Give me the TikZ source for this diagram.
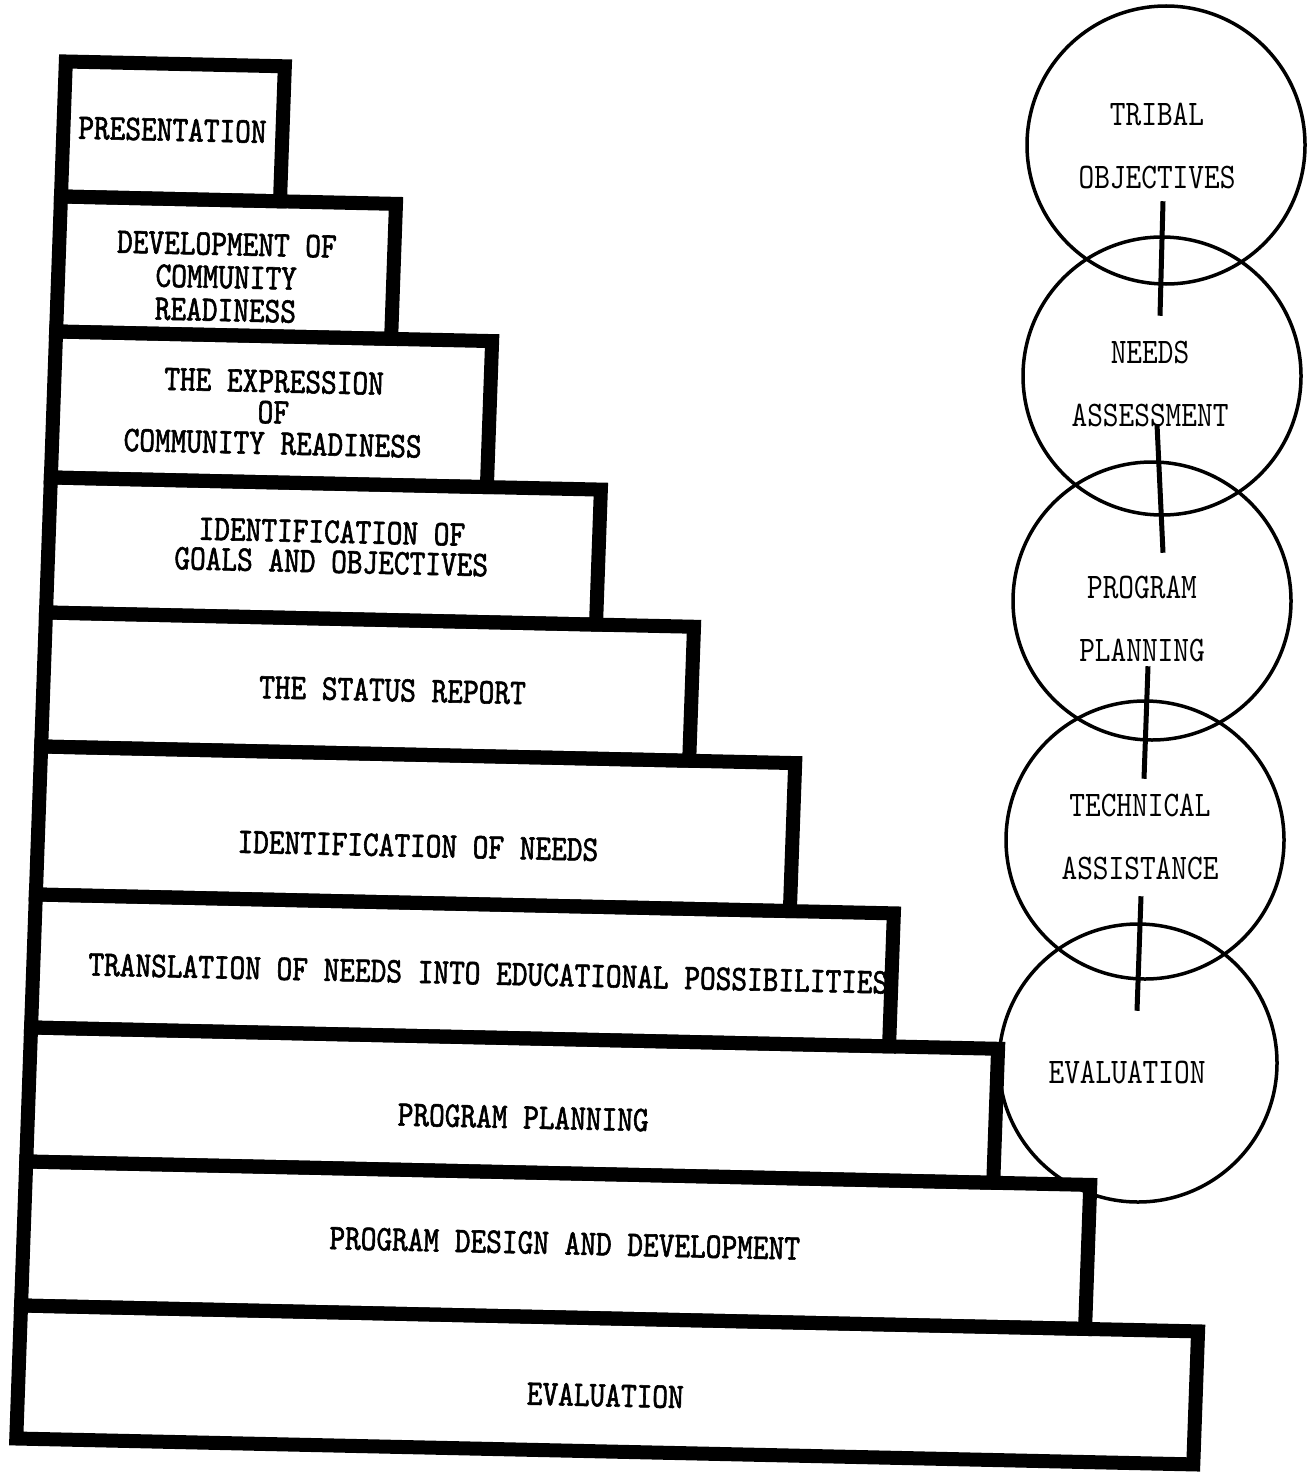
\documentclass[tikz,border=0pt]{standalone}
\usepackage{fontspec}
\newfontfamily\typefont[FakeStretch=0.83]{lmmono10-regular.otf}
\newfontfamily\stepfont[FakeStretch=0.83,FakeBold=1.6]{lmmono10-regular.otf}
\tikzset{
  stepbox/.style={draw, line width=14pt},
  steplabel/.style={font=\stepfont\fontsize{36}{33}\selectfont, align=center, inner sep=0pt, rotate=-1.3},
  ring/.style={circle, draw, line width=3.5pt, minimum size=278pt, inner sep=0pt},
  ringlabel/.style={font=\typefont\fontsize{36}{63}\selectfont, align=center, inner sep=0pt},
  crossbar/.style={line width=5pt}
}
\begin{document}
\begin{tikzpicture}[x=1pt,y=-1pt]
\useasboundingbox (0,0) rectangle (1310,1474);
% the steps, in the slightly skewed frame of the page
\begin{scope}[x={(1pt,-0.022pt)},y={(-0.036pt,-1pt)}]
\draw[stepbox] (68,60) -- (287,60) -- (287,195) -- (68,195) -- cycle;
\draw[stepbox] (68,195) -- (403,195) -- (403,330) -- (68,330) -- cycle;
\draw[stepbox] (68,330) -- (504,330) -- (504,476) -- (68,476) -- cycle;
\draw[stepbox] (68,476) -- (618,476) -- (618,611) -- (68,611) -- cycle;
\draw[stepbox] (68,611) -- (716,611) -- (716,745) -- (68,745) -- cycle;
\draw[stepbox] (68,745) -- (822,745) -- (822,893) -- (68,893) -- cycle;
\draw[stepbox] (68,893) -- (926,893) -- (926,1026) -- (68,1026) -- cycle;
\draw[stepbox] (68,1026) -- (1035,1026) -- (1035,1160) -- (68,1160) -- cycle;
\draw[stepbox] (68,1160) -- (1132,1160) -- (1132,1304) -- (68,1304) -- cycle;
\draw[stepbox] (68,1304) -- (1245,1304) -- (1245,1437) -- (68,1437) -- cycle;
\node[steplabel] (presentation) at (177,126) {PRESENTATION};
\node[steplabel] (development) at (236,272) {DEVELOPMENT OF\\COMMUNITY\\READINESS};
\node[steplabel, font=\stepfont\fontsize{36}{31}\selectfont] (expression) at (288,406) {THE EXPRESSION\\OF\\COMMUNITY READINESS};
\node[steplabel, font=\stepfont\fontsize{36}{30}\selectfont] (goals) at (351,539) {IDENTIFICATION OF\\GOALS AND OBJECTIVES};
\node[steplabel] (status) at (417,681) {THE STATUS REPORT};
\node[steplabel] (needs) at (448,836) {IDENTIFICATION OF NEEDS};
\node[steplabel] (translation) at (523,962) {TRANSLATION OF NEEDS INTO EDUCATIONAL POSSIBILITIES};
\node[steplabel] (planning) at (563,1105) {PROGRAM PLANNING};
\node[steplabel] (design) at (609,1230) {PROGRAM DESIGN AND DEVELOPMENT};
\node[steplabel] (evaluation) at (655,1381) {EVALUATION};
\end{scope}
% the chain of circles
\node[ring] (tribal) at (1166,145) {};
\node[ring] (assess) at (1162,376) {};
\node[ring] (program) at (1152,601) {};
\node[ring] (technical) at (1145,840) {};
\node[ring] (evalring) at (1138,1063) {};
\node[ringlabel] (tribaltext) at (1157,146) {TRIBAL\\OBJECTIVES};
\node[ringlabel] (assesstext) at (1150,384) {NEEDS\\ASSESSMENT};
\node[ringlabel] (programtext) at (1142,619) {PROGRAM\\PLANNING};
\node[ringlabel] (technicaltext) at (1140,837) {TECHNICAL\\ASSISTANCE};
\node[ringlabel] (evalringtext) at (1127,1072) {EVALUATION};
\draw[crossbar] ([xshift=1pt,yshift=34pt]assess.north) -- ([xshift=-6pt,yshift=-30pt]tribal.south);
\draw[crossbar] ([xshift=5pt,yshift=36pt]program.north) -- ([xshift=1pt,yshift=-36pt]assess.south);
\draw[crossbar] ([xshift=3pt,yshift=33pt]technical.north) -- ([xshift=-8pt,yshift=-37pt]program.south);
\draw[crossbar] ([xshift=3pt,yshift=26pt]evalring.north) -- ([xshift=-8pt,yshift=-30pt]technical.south);
\end{tikzpicture}
\end{document}
